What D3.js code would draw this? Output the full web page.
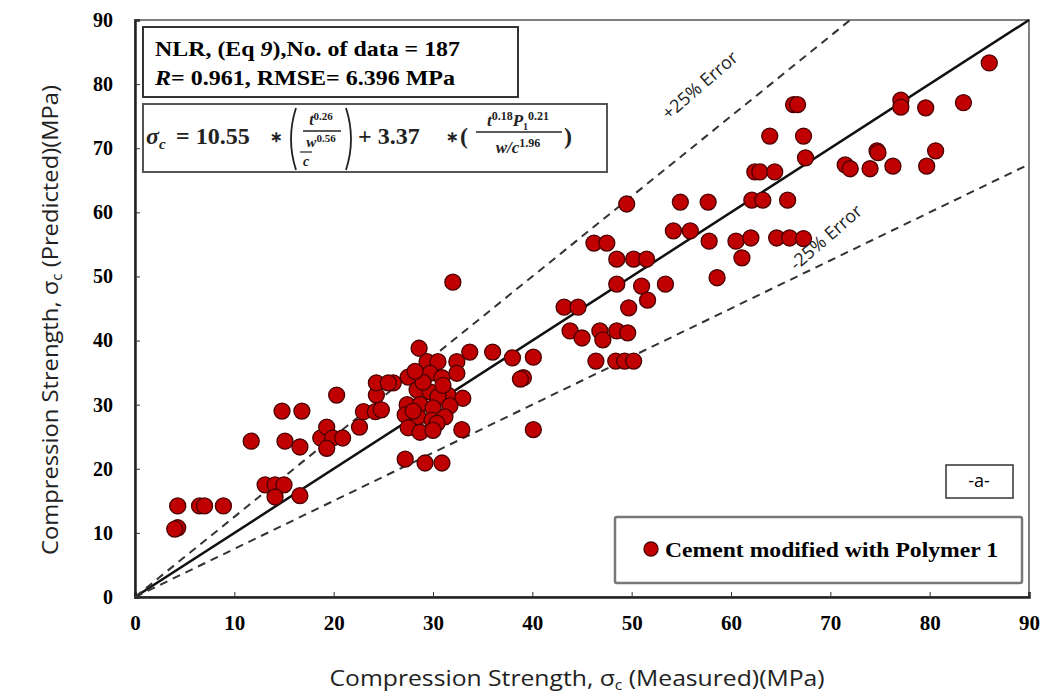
<!DOCTYPE html>
<html lang="en">
<head>
<meta charset="UTF-8">
<title>Measured vs Predicted</title>
<script src="https://cdn.jsdelivr.net/npm/d3@7"></script>
<style>
  body { margin: 0; background: #fff; }
  .tick text { font-family: "Liberation Serif", "Times New Roman", serif; font-weight: bold; fill: #000; }
  .axisTitle { font-family: "Open Sans", "Noto Sans", sans-serif; fill: #222; }
</style>
</head>
<body>
<div id="chart"></div>
<script>
// measured (x) and predicted (y) compression strength, MPa
var measured = [86.0, 83.4, 79.6, 77.1, 77.1, 66.3, 66.7, 63.9, 67.3, 67.5,
  62.4, 62.9, 64.4, 62.1, 63.2, 65.7, 49.5, 54.9, 57.7, 71.5,
  72.0, 74.0, 74.7, 74.8, 76.3, 79.7, 80.6, 54.2, 55.9, 57.8,
  60.5, 62.0, 64.6, 65.9, 67.3, 61.1, 58.6, 46.2, 47.5, 48.5,
  50.2, 51.5, 48.5, 51.0, 53.4, 51.6, 49.7, 43.2, 44.6, 43.8,
  45.0, 46.8, 47.1, 48.5, 49.6, 46.4, 48.4, 49.3, 50.2, 28.6,
  33.7, 36.0, 38.0, 40.1, 39.1, 38.8, 40.1, 32.9, 27.2, 29.2,
  30.9, 29.4, 30.5, 32.4, 32.4, 27.5, 29.7, 30.9, 26.0, 28.4,
  29.7, 31.5, 33.0, 30.5, 27.4, 28.7, 30.0, 31.7, 27.2, 28.5,
  29.9, 31.2, 27.5, 28.7, 30.4, 4.3, 4.3, 4.0, 6.5, 7.0,
  8.9, 13.1, 14.1, 15.0, 14.1, 16.6, 11.7, 15.1, 16.6, 14.8,
  16.8, 18.7, 19.3, 19.9, 20.9, 19.3, 20.3, 22.6, 23.0, 24.2,
  24.3, 24.3, 25.5, 24.8, 28.0, 29.0, 30.0, 31.0, 28.2, 32.0];
var predicted = [83.3, 77.1, 76.3, 77.5, 76.4, 76.8, 76.8, 71.9, 71.9, 68.5,
  66.3, 66.3, 66.3, 61.9, 61.9, 61.9, 61.3, 61.6, 61.6, 67.4,
  66.8, 66.8, 69.6, 69.3, 67.2, 67.2, 69.6, 57.1, 57.1, 55.5,
  55.5, 56.0, 56.0, 56.0, 55.9, 52.9, 49.8, 55.2, 55.2, 52.7,
  52.7, 52.7, 48.8, 48.5, 48.8, 46.3, 45.1, 45.2, 45.2, 41.5,
  40.4, 41.5, 40.1, 41.5, 41.2, 36.8, 36.8, 36.8, 36.8, 38.8,
  38.2, 38.2, 37.3, 37.4, 34.2, 34.0, 26.1, 26.1, 21.5, 20.9,
  20.9, 36.7, 36.7, 36.7, 34.9, 34.3, 34.9, 34.2, 33.4, 32.3,
  32.0, 31.5, 31.0, 31.2, 30.0, 30.0, 29.5, 29.8, 28.4, 28.1,
  27.6, 28.1, 26.4, 25.7, 27.1, 14.2, 10.8, 10.6, 14.2, 14.2,
  14.2, 17.5, 17.5, 17.5, 15.6, 15.8, 24.3, 24.3, 23.4, 29.0,
  29.0, 24.8, 26.5, 24.8, 24.8, 23.2, 31.5, 26.5, 28.9, 28.9,
  31.5, 33.4, 33.4, 29.2, 29.0, 33.5, 26.0, 33.0, 35.2, 49.1];
var tickVals = [0, 10, 20, 30, 40, 50, 60, 70, 80, 90];
var lineSlopes = [1, 1.25, 0.75];   // 1:1 line and +/-25% error bands
var legendLabel = 'Cement modified with Polymer 1';

var width = 1044, height = 696;
var pLeft = 135, pRight = 1029, pTop = 20, pBottom = 597;

var svg = d3.select('#chart').append('svg')
  .attr('width', width).attr('height', height)
  .style('background', '#fff');

var x = d3.scaleLinear().domain([0, 90]).range([pLeft, pRight]);
var y = d3.scaleLinear().domain([0, 90]).range([pBottom, pTop]);

// frame
svg.append('rect')
  .attr('x', pLeft).attr('y', pTop)
  .attr('width', pRight - pLeft).attr('height', pBottom - pTop)
  .attr('fill', 'none').attr('stroke', '#555').attr('stroke-width', 1.5);

// axes
var xAxis = d3.axisBottom(x).tickValues(tickVals).tickSize(-5).tickPadding(14);
var yAxis = d3.axisLeft(y).tickValues(tickVals).tickSize(-5).tickPadding(22);

var xg = svg.append('g').attr('transform', 'translate(0,' + pBottom + ')').call(xAxis);
var yg = svg.append('g').attr('transform', 'translate(' + pLeft + ',0)').call(yAxis);
xg.select('.domain').attr('stroke', '#222').attr('stroke-width', 2.5);
yg.select('.domain').attr('stroke', '#222').attr('stroke-width', 2.5);
xg.selectAll('.tick line').attr('stroke', '#333');
yg.selectAll('.tick line').attr('stroke', '#333');
xg.selectAll('.tick text').style('font-size', '21px').attr('dy', '0.9em');
yg.selectAll('.tick text').style('font-size', '20px');

// reference lines
lineSlopes.forEach(function(k) {
  var xEnd = Math.min(90, 90 / k);
  svg.append('line')
    .attr('x1', x(0)).attr('y1', y(0))
    .attr('x2', x(xEnd)).attr('y2', y(k * xEnd))
    .attr('stroke', k === 1 ? '#111' : '#333')
    .attr('stroke-width', k === 1 ? 2.5 : 2)
    .attr('stroke-dasharray', k === 1 ? null : '8,6');
});

// points
svg.selectAll('.dot')
  .data(measured)
  .enter().append('circle')
  .attr('class', 'dot')
  .attr('cx', function(d) { return x(d); })
  .attr('cy', function(d, i) { return y(predicted[i]); })
  .attr('r', 8)
  .attr('fill', '#c00000')
  .attr('stroke', '#4a0000')
  .attr('stroke-width', 1.3);

// error labels
svg.append('text')
  .attr('transform', 'translate(704,90) rotate(-41)')
  .attr('text-anchor', 'middle')
  .style('font-family', '"Open Sans", sans-serif').style('font-size', '18px').style('fill', '#222')
  .text('+25% Error');
svg.append('text')
  .attr('transform', 'translate(830,242) rotate(-41)')
  .attr('text-anchor', 'middle')
  .style('font-family', '"Open Sans", sans-serif').style('font-size', '18px').style('fill', '#222')
  .text('-25% Error');

// axis titles
svg.append('text').attr('class', 'axisTitle')
  .attr('x', 577).attr('y', 686).attr('text-anchor', 'middle')
  .attr('textLength', 495).attr('lengthAdjust', 'spacingAndGlyphs')
  .style('font-size', '22px')
  .html('Compression Strength, σ<tspan dy="4" font-size="14">c</tspan><tspan dy="-4"> (Measured)(MPa)</tspan>');
svg.append('text').attr('class', 'axisTitle')
  .attr('transform', 'translate(58,320) rotate(-90)').attr('text-anchor', 'middle')
  .attr('textLength', 470).attr('lengthAdjust', 'spacingAndGlyphs')
  .style('font-size', '22px')
  .html('Compression Strength, σ<tspan dy="4" font-size="14">c</tspan><tspan dy="-4"> (Predicted)(MPa)</tspan>');

// stats box
var serif = '"Liberation Serif", "Times New Roman", serif';
svg.append('rect').attr('x', 143).attr('y', 27).attr('width', 375).attr('height', 70)
  .attr('fill', '#fff').attr('stroke', '#333').attr('stroke-width', 2);
svg.append('text').attr('x', 155).attr('y', 56)
  .attr('textLength', 305).attr('lengthAdjust', 'spacingAndGlyphs')
  .style('font-family', serif).style('font-weight', 'bold').style('font-size', '22px')
  .html('NLR, (Eq <tspan font-style="italic">9</tspan>),No. of data = 187');
svg.append('text').attr('x', 155).attr('y', 85)
  .attr('textLength', 300).attr('lengthAdjust', 'spacingAndGlyphs')
  .style('font-family', serif).style('font-weight', 'bold').style('font-size', '22px')
  .html('<tspan font-style="italic">R</tspan>= 0.961, RMSE= 6.396 MPa');

// equation box
svg.append('rect').attr('x', 143).attr('y', 104).attr('width', 464).attr('height', 68)
  .attr('fill', '#fff').attr('stroke', '#555').attr('stroke-width', 2);
var eq = svg.append('g').style('font-family', serif).style('font-weight', 'bold').style('fill', '#222');
eq.append('text').attr('x', 146).attr('y', 144).style('font-size', '24px')
  .html('<tspan font-style="italic">σ</tspan><tspan dy="5" font-size="15" font-style="italic">c</tspan><tspan dy="-5" x="176">= 10.55</tspan><tspan x="270" font-size="15" dy="-2">∗</tspan>');
function paren(x0, y0, y1, dir) {
  var mid = (y0 + y1) / 2;
  eq.append('path')
    .attr('d', 'M' + x0 + ',' + y0 + ' Q' + (x0 - dir * 10) + ',' + mid + ' ' + x0 + ',' + y1)
    .attr('fill', 'none').attr('stroke', '#222').attr('stroke-width', 1.8);
}
paren(296, 108, 170, 1);
paren(346, 108, 170, -1);
eq.append('text').attr('x', 321).attr('y', 125).attr('text-anchor', 'middle').style('font-size', '16px')
  .html('<tspan font-style="italic">t</tspan><tspan dy="-5" font-size="11">0.26</tspan>');
eq.append('line').attr('x1', 303).attr('x2', 341).attr('y1', 131).attr('y2', 131).attr('stroke', '#222').attr('stroke-width', 1.5);
eq.append('text').attr('x', 321).attr('y', 147).attr('text-anchor', 'middle').style('font-size', '15px')
  .html('<tspan font-style="italic">w</tspan><tspan dy="-5" font-size="11">0.56</tspan>');
eq.append('line').attr('x1', 300).attr('x2', 312).attr('y1', 152).attr('y2', 152).attr('stroke', '#222').attr('stroke-width', 1.2);
eq.append('text').attr('x', 306).attr('y', 166).attr('text-anchor', 'middle').style('font-size', '14px').style('font-style', 'italic').text('c');
eq.append('text').attr('x', 358).attr('y', 144).style('font-size', '24px')
  .html('+ 3.37<tspan x="446" font-size="15" dy="-2">∗</tspan><tspan x="460" dy="2">(</tspan>');
eq.append('text').attr('x', 518).attr('y', 126).attr('text-anchor', 'middle').style('font-size', '17px')
  .html('<tspan font-style="italic">t</tspan><tspan dy="-6" font-size="12">0.18</tspan><tspan dy="6" font-style="italic">P</tspan><tspan dy="4" font-size="10">1</tspan><tspan dy="-10" font-size="12">0.21</tspan>');
eq.append('line').attr('x1', 476).attr('x2', 562).attr('y1', 132).attr('y2', 132).attr('stroke', '#222').attr('stroke-width', 1.5);
eq.append('text').attr('x', 518).attr('y', 153).attr('text-anchor', 'middle').style('font-size', '17px')
  .html('<tspan font-style="italic">w/c</tspan><tspan dy="-6" font-size="12">1.96</tspan>');
eq.append('text').attr('x', 564).attr('y', 144).style('font-size', '24px').text(')');

// panel tag
svg.append('rect').attr('x', 946).attr('y', 465).attr('width', 67).attr('height', 33)
  .attr('fill', '#fff').attr('stroke', '#333').attr('stroke-width', 1.5);
svg.append('text').attr('x', 979).attr('y', 487).attr('text-anchor', 'middle')
  .style('font-family', '"Open Sans", sans-serif').style('font-size', '18px').text('-a-');

// legend
svg.append('rect').attr('x', 615).attr('y', 517).attr('width', 407).attr('height', 66).attr('rx', 2)
  .attr('fill', '#fff').attr('stroke', '#777').attr('stroke-width', 2.5);
svg.append('circle').attr('cx', 651).attr('cy', 549).attr('r', 7)
  .attr('fill', '#c00000').attr('stroke', '#4a0000').attr('stroke-width', 1.3);
svg.append('text').attr('x', 665).attr('y', 557)
  .attr('textLength', 333).attr('lengthAdjust', 'spacingAndGlyphs')
  .style('font-family', serif).style('font-weight', 'bold').style('font-size', '22px')
  .text(legendLabel);
</script>
</body>
</html>
